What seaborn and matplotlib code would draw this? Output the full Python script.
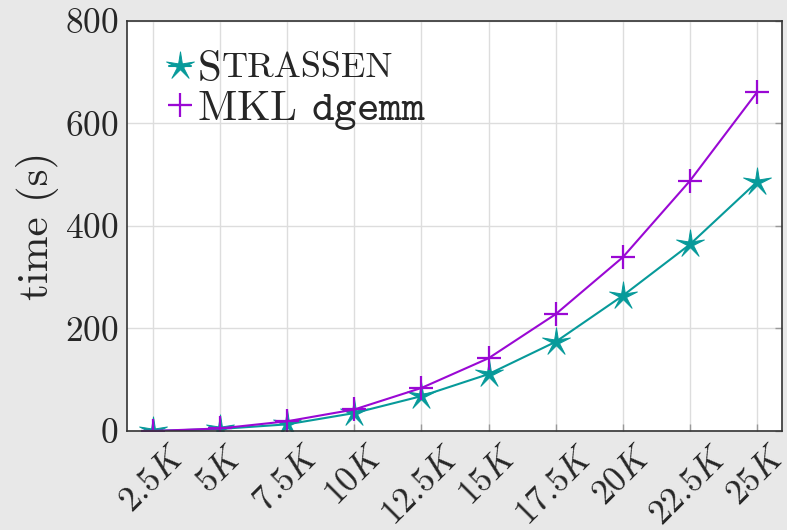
import numpy as np
import pandas as pd
import matplotlib
matplotlib.use("Agg")
import matplotlib.pyplot as plt
from matplotlib.path import Path
import seaborn as sns

# Matrix size (thousands) and run times in seconds
sizes = [2.5, 5, 7.5, 10, 12.5, 15, 17.5, 20, 22.5, 25]
size_labels = ["$2.5K$", "$5K$", "$7.5K$", "$10K$", "$12.5K$",
               "$15K$", "$17.5K$", "$20K$", "$22.5K$", "$25K$"]
strassen_time = [0, 4, 13, 35, 68, 111, 174, 264, 364, 486]
mkl_time = [0, 5, 19, 42, 84, 142, 228, 339, 488, 661]

sns.set_theme(style="whitegrid")
plt.rcParams.update({
    "font.family": ["serif"],
    "font.serif": ["cmr10", "DejaVu Serif"],
    "mathtext.fontset": "cm",
    "axes.unicode_minus": False,
    "axes.formatter.use_mathtext": True,
})

# thin-armed five point star
def thin_star(n=5, inner=0.22):
    verts = []
    for k in range(2 * n):
        r = 1.0 if k % 2 == 0 else inner
        a = np.pi / 2 + k * np.pi / n
        verts.append((r * np.cos(a), r * np.sin(a)))
    verts.append(verts[0])
    codes = [Path.MOVETO] + [Path.LINETO] * (2 * n - 1) + [Path.CLOSEPOLY]
    return Path(verts, codes)

teal = "#079a9a"
violet = "#9a08d4"

fig = plt.figure(figsize=(7.87, 5.30), dpi=100, facecolor="#e8e8e8")
ax = fig.add_axes([0.1614, 0.1868, 0.8322, 0.7736])
ax.set_facecolor("white")

series = [
    (strassen_time, teal, thin_star(), 21, 0.7),
    (mkl_time, violet, "+", 17, 1.6),
]
for values, color, marker, ms, mew in series:
    sns.lineplot(x=sizes, y=values, color=color, marker=marker,
                 markersize=ms, markeredgewidth=mew, markeredgecolor=color,
                 markerfacecolor=color, linewidth=1.5, ax=ax)

ax.set_xlim(1.53, 25.93)
ax.set_ylim(0, 800)
ax.set_xticks(sizes)
ax.set_xticklabels(size_labels, rotation=45, ha="center", va="top",
                   rotation_mode="default", fontsize=25.5)
ax.set_yticks([0, 200, 400, 600, 800])
ax.tick_params(axis="y", labelsize=25.5)
ax.tick_params(axis="both", direction="in", length=5,
               width=1.0, color="#999999", pad=6)
ax.tick_params(axis="y", right=True, left=False)
ax.tick_params(axis="x", bottom=True, pad=7)
ax.set_xlabel("")
ax.set_ylabel("time (s)", fontsize=31, labelpad=4)
ax.grid(True, color="#dddddd", linewidth=1.0)
for sp in ax.spines.values():
    sp.set_color("#333333")
    sp.set_linewidth(1.2)

handles = ax.lines[:2]
leg = ax.legend(handles, ["S", r"MKL $\mathtt{dgemm}$"], loc="upper left",
                bbox_to_anchor=(0.025, 0.99), frameon=False, fontsize=31,
                handlelength=0.5, handletextpad=0.15, labelspacing=0.0,
                borderaxespad=0.2)
fig.canvas.draw()
s_text = leg.get_texts()[0]
ax.annotate("TRASSEN", xy=(1, 0), xycoords=s_text, xytext=(0.5, 4.0),
            textcoords="offset points", fontsize=26, va="bottom", ha="left",
            annotation_clip=False)

fig.savefig("out.png", dpi=100, facecolor=fig.get_facecolor())
